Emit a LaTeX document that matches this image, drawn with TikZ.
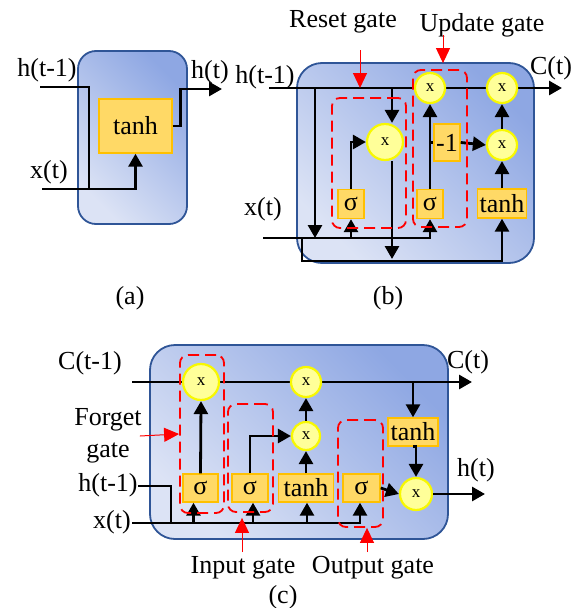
\documentclass[tikz,border=0pt]{standalone}
\usepackage{fontspec}
\setmainfont{Liberation Serif}
\usetikzlibrary{arrows.meta, positioning}
\definecolor{celllight}{HTML}{DCE3F5}
\definecolor{celldark}{HTML}{8EA7E3}
\definecolor{cellborder}{HTML}{2F5597}
\definecolor{opfill}{HTML}{FFD966}
\definecolor{opborder}{HTML}{FFC000}
\definecolor{mulfill}{HTML}{FFFF99}
\definecolor{mulborder}{HTML}{F8F800}
\newcommand\lblfont{\fontsize{26}{27}\selectfont}
\newcommand\mulfont{\fontsize{17}{18}\selectfont}
\tikzset{
  % cella (sfondo sfumato)
  cell/.style={draw=cellborder, line width=1.8pt, rounded corners=18pt, shade,
    bottom color=celllight, top color=celldark, shading angle=-45,
    inner sep=0pt, outer sep=0pt},
  % blocchi di attivazione
  opbox/.style={draw=opborder, fill=opfill, line width=1.4pt, inner sep=1pt},
  % moltiplicazione punto a punto
  mulnode/.style={circle, draw=mulborder, fill=mulfill, line width=2.2pt,
    inner sep=0pt, font=\mulfont},
  % zona tratteggiata di un gate
  gatezone/.style={draw=red, dash pattern=on 11pt off 6pt, line width=1.8pt,
    rounded corners=8pt, inner sep=0pt},
  % collegamenti
  wire/.style={line width=2.8pt, black},
  flow/.style={wire, -{Triangle[length=13pt, width=14pt]}},
  pointer/.style={red, line width=1pt, -{Triangle[length=15pt, width=14pt]}},
  lbl/.style={inner sep=0pt},
}
\begin{document}
\begin{tikzpicture}[x=1pt, y=-1pt, every node/.style={font=\lblfont}]
  \useasboundingbox (0,0) rectangle (575,608);
  % (a) RNN
  \node[cell, minimum width=109pt, minimum height=173pt] (ca) at (132.5,137.5) {};
  \node[opbox, minimum width=73pt, minimum height=54pt] (ta) at (135.5,126) {tanh};
  \node[lbl] (hain) at (47,70) {h(t-1)};
  \node[lbl] (xain) at (49,172) {x(t)};
  \node[lbl] (haout) at (210,72) {h(t)};
  \coordinate (ha0) at (40,87);
  \coordinate (xa0) at (42,189);
  \coordinate (ja) at (89,189);
  \coordinate (ha1) at (222,89);
  \draw[wire] (ha0) -| (ja);
  \draw[flow] (xa0) -| (ta.south);
  \draw[flow] (ta.east) -- ++(8,0) |- (ha1);
  \node[lbl] (capa) at (130,298) {(a)};
  % (b) GRU
  \node[cell, rounded corners=25pt, minimum width=237pt, minimum height=200pt] (cb) at (415.5,163) {};
  \coordinate (hb0) at (269,88);
  \coordinate (hb1) at (562,88);
  \draw[flow] (hb0) -- (hb1);
  \node[opbox, minimum width=26pt, minimum height=29pt] (sr) at (351,204) {σ};
  \node[opbox, minimum width=26pt, minimum height=29pt] (su) at (430,204) {σ};
  \node[opbox, minimum width=49pt, minimum height=29pt] (tb) at (502,203.5) {tanh};
  \node[opbox, minimum width=26pt, minimum height=37pt] (neg) at (447,142.5) {-1};
  \node[mulnode, minimum size=36pt] (mr) at (385,142) {x};
  \node[mulnode, minimum size=30pt] (mu) at (430,88) {x};
  \node[mulnode, minimum size=30pt] (mc) at (502,145) {x};
  \node[mulnode, minimum size=30pt] (mh) at (502,88) {x};
  \node[lbl] (hbin) at (265,77) {h(t-1)};
  \node[lbl] (xbin) at (263,209) {x(t)};
  \node[lbl] (cbout) at (551,68) {C(t)};
  \coordinate (xb0) at (263,238);
  \coordinate (jb1) at (315,88);
  \coordinate (jb2) at (302,238);
  \coordinate (bb1) at (302,261);
  \coordinate (jb3) at (392,88);
  \coordinate (jb4) at (392,259);
  \draw[flow] (jb1) -- (jb1 |- xb0);
  \draw[flow] (xb0) -| (su.south);
  \draw[flow] (sr.south |- xb0) -- (sr.south);
  \draw[flow] (jb2) -- (bb1) -| (tb.south);
  \draw[flow] (sr.north) |- (mr.west);
  \draw[flow] (jb3) -- (jb3 |- mr.north);
  \draw[flow] (jb3 |- mr.south) -- (jb4);
  \draw[flow] (su.north) -- (mu.south);
  \draw[wire] (su.north |- neg.west) -- (neg.west);
  \draw[flow] (neg.east) -- (mc.west);
  \draw[flow] (mc.north) -- (mh.south);
  \draw[flow] (tb.north) -- (mc.south);
  \node[gatezone, minimum width=74pt, minimum height=130pt] (zr) at (369,163) {};
  \node[gatezone, minimum width=54pt, minimum height=157pt] (zu) at (440,148.5) {};
  \node[lbl] (lr) at (343,22) {Reset gate};
  \node[lbl] (lu) at (482,25) {Update gate};
  \coordinate (pr) at (360,50);
  \coordinate (pu) at (443,35);
  \draw[pointer] (pr) -- (pr |- hb0);
  \draw[pointer, shorten >=6pt] (pu) -- (pu |- zu.north);
  \node[lbl] (capb) at (388,298) {(b)};
  % (c) LSTM
  \node[cell, rounded corners=25pt, minimum width=298pt, minimum height=194pt] (cc) at (299,442) {};
  \coordinate (cc0) at (132,382);
  \coordinate (cc1) at (472,382);
  \draw[flow] (cc0) -- (cc1);
  \node[mulnode, minimum size=36pt] (mf) at (201,382) {x};
  \node[mulnode, minimum size=30pt] (mk) at (306,382) {x};
  \node[mulnode, minimum size=28pt] (mi) at (306,436) {x};
  \node[mulnode, minimum size=32pt] (mo) at (416,494) {x};
  \node[opbox, minimum width=35pt, minimum height=28pt] (sf) at (200.5,488) {σ};
  \node[opbox, minimum width=36pt, minimum height=28pt] (si) at (250,488) {σ};
  \node[opbox, minimum width=55pt, minimum height=28pt] (tc) at (306,488) {tanh};
  \node[opbox, minimum width=37pt, minimum height=28pt] (so) at (361.5,488) {σ};
  \node[opbox, minimum width=50pt, minimum height=28pt] (tk) at (413,432) {tanh};
  \node[lbl] (ccin) at (90,363) {C(t-1)};
  \node[lbl] (ccout) at (468,362) {C(t)};
  \node[lbl] (hcin) at (108,485) {h(t-1)};
  \node[lbl] (xcin) at (112,522) {x(t)};
  \node[lbl] (hcout) at (476,470) {h(t)};
  \coordinate (jc1) at (413,382);
  \coordinate (hc0) at (138,486);
  \coordinate (jc2) at (171,523);
  \coordinate (xc0) at (132,523);
  \coordinate (hc1) at (485,494);
  \draw[flow] (sf.north) -- (mf.south);
  \draw[flow] (si.north) |- (mi.west);
  \draw[flow] (tc.north) -- (mi.south);
  \draw[flow] (mi.north) -- (mk.south);
  \draw[flow] (jc1) -- (tk.north);
  \draw[flow] (tk.south) -- (tk.south -| mo.north) -- (mo.north);
  \draw[flow] (so.east) -- (mo.west);
  \draw[flow] (mo.east) -- (hc1);
  \draw[wire] (hc0) -| (jc2);
  \draw[flow] (xc0) -| ([xshift=-1.5pt]so.south);
  \foreach \st/\dx in {sf/-7, si/3, tc/1} \draw[flow] ([xshift=\dx pt]\st.south |- xc0) -- ([xshift=\dx pt]\st.south);
  \node[gatezone, minimum width=44pt, minimum height=158pt] (zf) at (202,434) {};
  \node[gatezone, minimum width=45pt, minimum height=108pt] (zi) at (250.5,458) {};
  \node[gatezone, minimum width=45pt, minimum height=107pt] (zo) at (360.5,473.5) {};
  \node[lbl, align=center, font=\fontsize{26}{32}\selectfont] (lf) at (108,436) {Forget\\gate};
  \node[lbl] (li) at (243,568) {Input gate};
  \node[lbl] (lo) at (373,568) {Output gate};
  \coordinate (pi) at (242,552);
  \coordinate (po) at (367,552);
  \draw[pointer] ([xshift=-2pt]lf.east) -- (zf.west);
  \draw[pointer, shorten >=5pt] (pi) -- (pi |- zi.south);
  \draw[pointer] (po) -- (po |- zo.south);
  \node[lbl] (capc) at (283,597) {(c)};
\end{tikzpicture}
\end{document}
